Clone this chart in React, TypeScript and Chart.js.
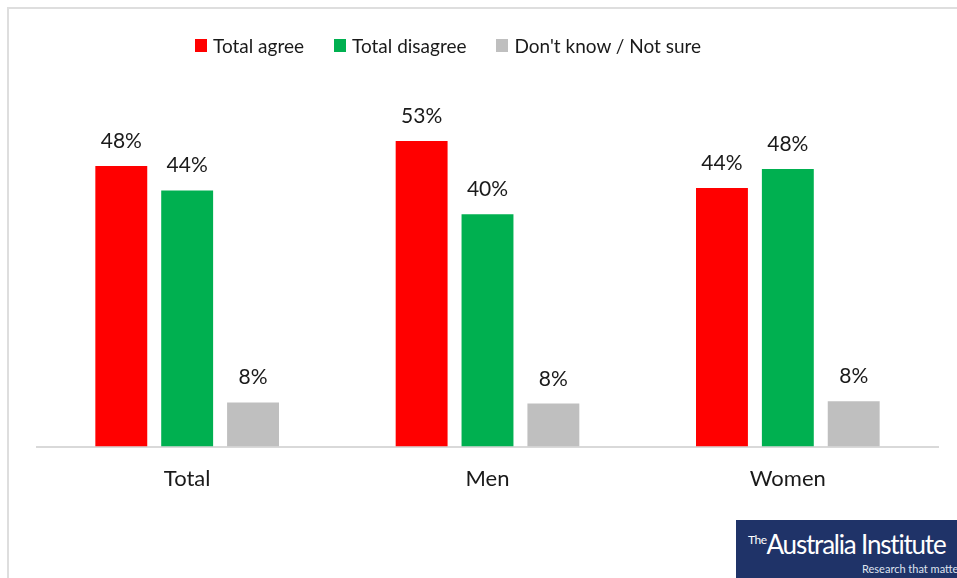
import React, { useEffect, useRef } from "react";
import { Chart, registerables } from "chart.js";

Chart.register(...registerables);

const categories = ["Total", "Men", "Women"];
const seriesNames = ["Total agree", "Total disagree", "Don't know / Not sure"];
const agreeValues = [48.3, 52.6, 44.5];
const disagreeValues = [44.1, 40.0, 47.8];
const unsureValues = [7.6, 7.4, 7.8];
const agreeLabels = ["48%", "53%", "44%"];
const disagreeLabels = ["44%", "40%", "48%"];
const unsureLabels = ["8%", "8%", "8%"];
const seriesColors = ["#ff0000", "#00b050", "#bfbfbf"];

const FONT = "Lato, 'Open Sans', sans-serif";

const valueLabelPlugin = {
  id: "valueLabels",
  afterDatasetsDraw(chart: any) {
    const ctx = chart.ctx;
    const labelSets = [agreeLabels, disagreeLabels, unsureLabels];
    ctx.save();
    ctx.font = `21px ${FONT}`;
    ctx.fillStyle = "#1a1a1a";
    ctx.textAlign = "center";
    ctx.textBaseline = "alphabetic";
    chart.data.datasets.forEach((ds: any, di: number) => {
      const meta = chart.getDatasetMeta(di);
      meta.data.forEach((bar: any, i: number) => {
        ctx.fillText(labelSets[di][i], bar.x, bar.y - 18);
      });
    });
    ctx.restore();
  },
};

export default function App() {
  const canvasRef = useRef<HTMLCanvasElement | null>(null);

  useEffect(() => {
    if (!canvasRef.current) return;
    const chart = new Chart(canvasRef.current, {
      type: "bar",
      data: {
        labels: categories,
        datasets: [
          { label: seriesNames[0], data: agreeValues, backgroundColor: seriesColors[0] },
          { label: seriesNames[1], data: disagreeValues, backgroundColor: seriesColors[1] },
          { label: seriesNames[2], data: unsureValues, backgroundColor: seriesColors[2] },
        ],
      },
      options: {
        responsive: false,
        animation: false,
        devicePixelRatio: 1,
        layout: { padding: { top: 98, left: 37, right: 19, bottom: 67 } },
        datasets: {
          bar: { categoryPercentage: 0.658, barPercentage: 0.788 },
        },
        plugins: {
          legend: { display: false },
          tooltip: { enabled: false },
        },
        scales: {
          x: {
            grid: { display: false, drawTicks: false },
            border: { display: true, color: "#d9d9d9", width: 2 },
            ticks: {
              padding: 19,
              color: "#1a1a1a",
              font: { family: FONT, size: 22 },
            },
          },
          y: {
            display: false,
            min: 0,
            max: 60,
          },
        },
      },
      plugins: [valueLabelPlugin],
    });
    return () => chart.destroy();
  }, []);

  return (
    <div
      style={{
        position: "fixed",
        left: 0,
        top: 0,
        width: 957,
        height: 578,
        overflow: "hidden",
        background: "#ffffff",
      }}
    >
      <div
        style={{
          position: "absolute",
          left: 7,
          top: 7,
          width: 980,
          height: 600,
          borderLeft: "2px solid #dedede",
          borderTop: "2px solid #dedede",
        }}
      />
      <canvas
        ref={canvasRef}
        width={957}
        height={578}
        style={{ position: "absolute", left: 0, top: 0, width: 957, height: 578 }}
      />
      <div
        style={{
          position: "absolute",
          left: 195,
          top: 33,
          height: 25,
          display: "flex",
          alignItems: "center",
          whiteSpace: "nowrap",
          fontFamily: FONT,
          fontSize: 19,
          color: "#1a1a1a",
        }}
      >
        {seriesNames.map((name, i) => (
          <div
            key={name}
            style={{ display: "flex", alignItems: "center", marginRight: i < seriesNames.length - 1 ? 30 : 0 }}
          >
            <span
              style={{
                display: "inline-block",
                width: 12,
                height: 13,
                background: seriesColors[i],
                marginRight: 6,
              }}
            />
            <span>{name}</span>
          </div>
        ))}
      </div>
      <div
        style={{
          position: "absolute",
          left: 736,
          top: 520,
          width: 221,
          height: 58,
          background: "#1f3368",
          overflow: "hidden",
          color: "#ffffff",
          fontFamily: FONT,
        }}
      >
        <div
          style={{
            position: "absolute",
            left: 12,
            top: 10,
            whiteSpace: "nowrap",
            lineHeight: "28px",
          }}
        >
          <span style={{ fontSize: 12, verticalAlign: "top", position: "relative", top: -4, letterSpacing: -0.5 }}>The</span>
          <span style={{ fontSize: 26, letterSpacing: -1.2 }}>Australia Institute</span>
        </div>
        <div
          style={{
            position: "absolute",
            left: 126,
            top: 42,
            whiteSpace: "nowrap",
            fontSize: 11,
            color: "#dfe4ef",
            lineHeight: "13px",
          }}
        >
          Research that matters
        </div>
      </div>
    </div>
  );
}
